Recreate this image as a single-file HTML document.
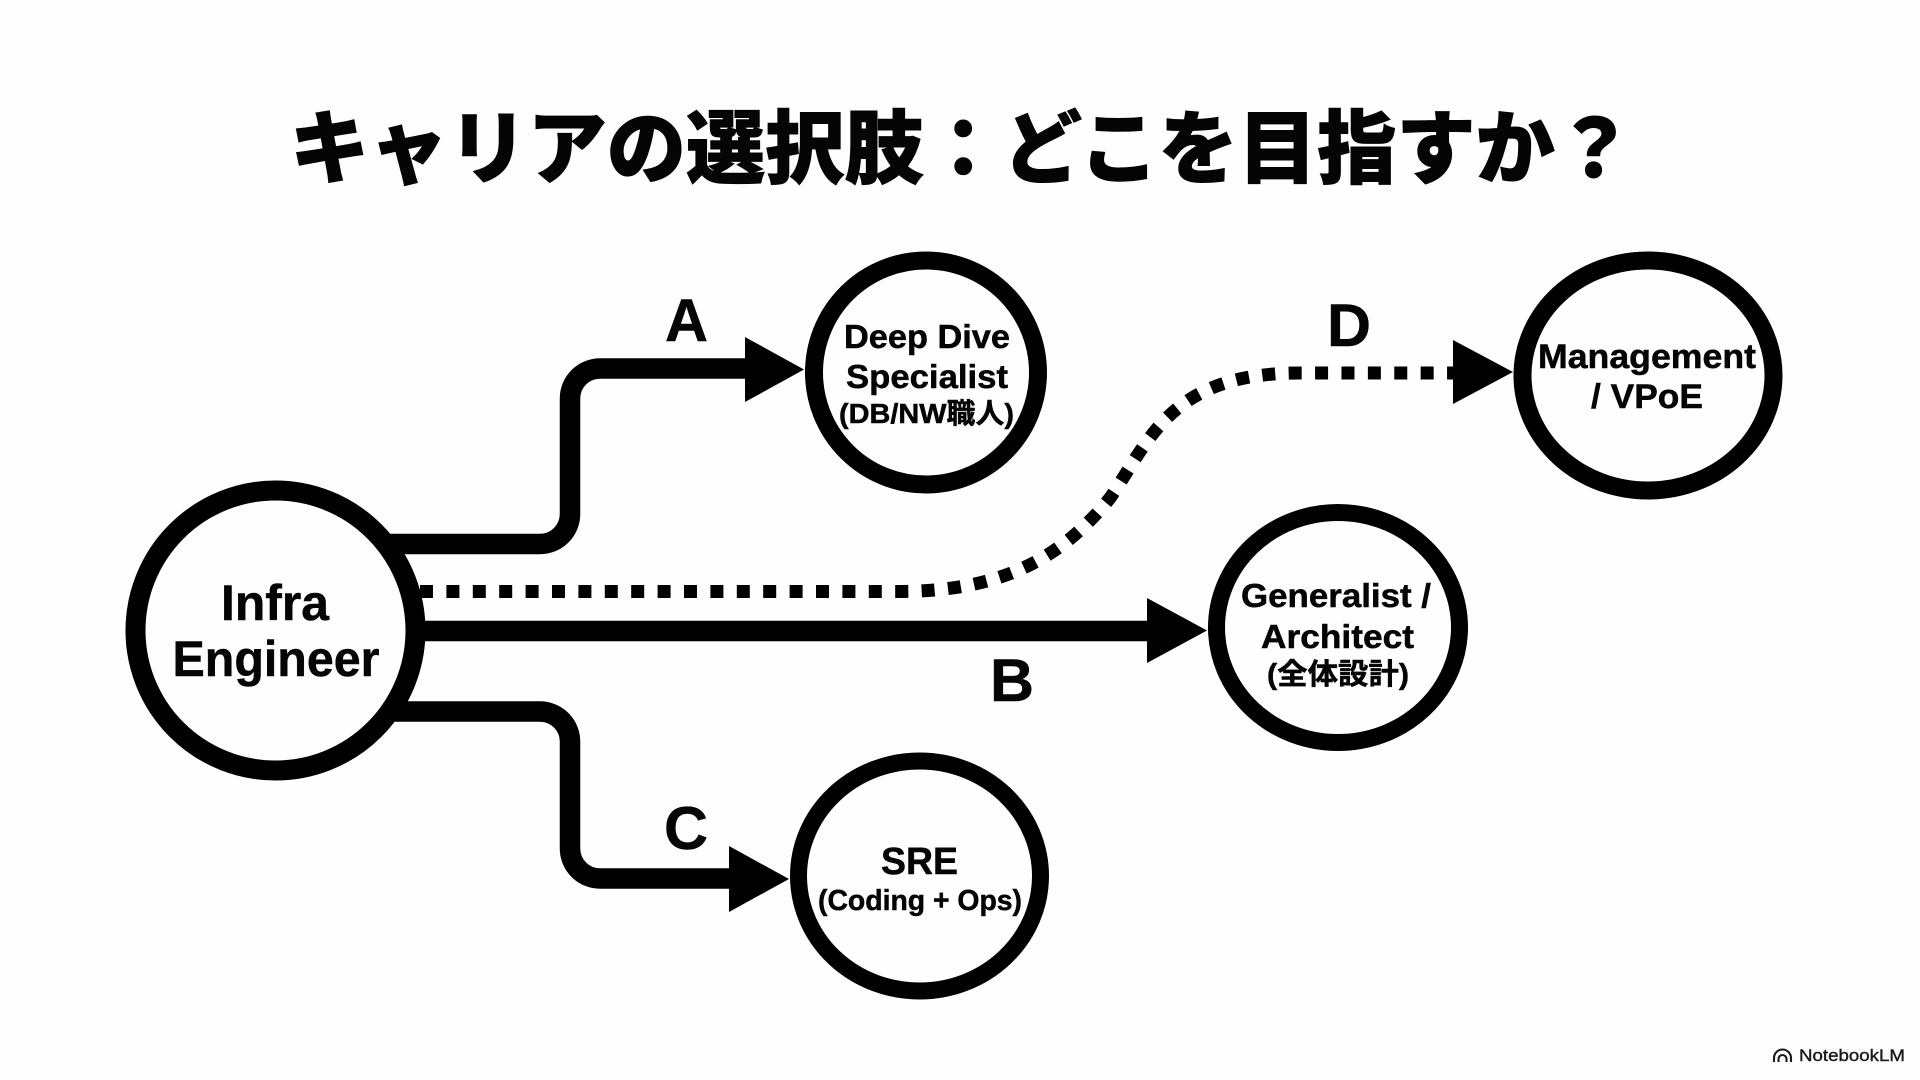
<!DOCTYPE html>
<html lang="ja">
<head>
<meta charset="utf-8">
<title>キャリアの選択肢</title>
<style>
html,body{margin:0;padding:0;width:1920px;height:1080px;background:#fefefe;overflow:hidden}
svg{display:block}
text{font-family:"Liberation Sans","Noto Sans CJK JP",sans-serif;font-weight:700;fill:#050505;stroke:#050505;stroke-width:.5}
.t{font-family:"Noto Sans CJK JP","Liberation Sans",sans-serif;font-weight:900;stroke-width:1}
.line{fill:none;stroke:#000;stroke-width:20.5}
.node{fill:#fefefe;stroke:#000}
</style>
</head>
<body>
<svg width="1920" height="1080" viewBox="0 0 1920 1080" xmlns="http://www.w3.org/2000/svg">
  <rect width="1920" height="1080" fill="#fefefe"/>

  <text class="t" x="290" y="177" font-size="80" textLength="1344" lengthAdjust="spacingAndGlyphs">キャリアの選択肢：どこを目指すか？</text>

  <!-- connectors -->
  <path class="line" d="M390 544 H540 A30 30 0 0 0 570 514 V398.5 A30 30 0 0 1 600 368.5 H750"/>
  <polygon points="745,337 804,369.5 745,402" fill="#000"/>

  <path class="line" d="M415 631 H1152"/>
  <polygon points="1147,598 1207,630.5 1147,663" fill="#000"/>

  <path class="line" d="M390 711.5 H540 A30 30 0 0 1 570 741.5 V848.5 A30 30 0 0 0 600 878.5 H735"/>
  <polygon points="729,846 789,879 729,912" fill="#000"/>

  <path d="M420 591.5 H900 C1000 591 1060 560 1110 498 C1150 440 1170 373 1300 373 H1455" fill="none" stroke="#000" stroke-width="13" stroke-dasharray="13 13.4"/>
  <polygon points="1453,340 1513,372 1453,404" fill="#000"/>

  <!-- nodes -->
  <circle class="node" cx="275.5" cy="630.5" r="140" stroke-width="20"/>
  <ellipse class="node" cx="926" cy="372.5" rx="112" ry="112" stroke-width="18"/>
  <ellipse class="node" cx="1648" cy="375.5" rx="125.5" ry="115" stroke-width="18"/>
  <ellipse class="node" cx="1338" cy="627.5" rx="121.5" ry="115" stroke-width="17"/>
  <ellipse class="node" cx="919.5" cy="876" rx="121" ry="115" stroke-width="17"/>

  <!-- branch letters -->
  <text x="665" y="341" font-size="60" textLength="43" lengthAdjust="spacingAndGlyphs">A</text>
  <text x="990" y="701" font-size="60" textLength="44" lengthAdjust="spacingAndGlyphs">B</text>
  <text x="664" y="849" font-size="60" textLength="44" lengthAdjust="spacingAndGlyphs">C</text>
  <text x="1327" y="346" font-size="60" textLength="44" lengthAdjust="spacingAndGlyphs">D</text>

  <!-- node labels -->
  <text x="221" y="620" font-size="50" textLength="108" lengthAdjust="spacingAndGlyphs">Infra</text>
  <text x="172.5" y="676" font-size="50" textLength="207" lengthAdjust="spacingAndGlyphs">Engineer</text>

  <text x="844" y="348" font-size="33" textLength="166" lengthAdjust="spacingAndGlyphs">Deep Dive</text>
  <text x="846" y="388" font-size="33" textLength="162" lengthAdjust="spacingAndGlyphs">Specialist</text>
  <text x="839" y="423" font-size="28" textLength="175" lengthAdjust="spacingAndGlyphs">(DB/NW職人)</text>

  <text x="1538" y="368" font-size="34" textLength="218" lengthAdjust="spacingAndGlyphs">Management</text>
  <text x="1591" y="408" font-size="34" textLength="112" lengthAdjust="spacingAndGlyphs">/ VPoE</text>

  <text x="1241" y="607" font-size="33" textLength="190" lengthAdjust="spacingAndGlyphs">Generalist /</text>
  <text x="1261" y="648" font-size="33" textLength="153" lengthAdjust="spacingAndGlyphs">Architect</text>
  <text x="1267" y="684" font-size="29" textLength="142" lengthAdjust="spacingAndGlyphs">(全体設計)</text>

  <text x="881" y="874" font-size="38" textLength="77" lengthAdjust="spacingAndGlyphs">SRE</text>
  <text x="818" y="910" font-size="29" textLength="204" lengthAdjust="spacingAndGlyphs">(Coding + Ops)</text>

  <!-- watermark -->
  <g fill="none" stroke="#1a1a1a" stroke-width="2.1">
    <path d="M1774 1062 V1058 A8.5 8.5 0 0 1 1791 1058 V1062"/>
    <path d="M1778.5 1062 V1059 A4 4 0 0 1 1786.5 1059 V1062"/>
  </g>
  <text x="1799" y="1061" font-size="17" textLength="106" lengthAdjust="spacingAndGlyphs" style="font-weight:400;fill:#1a1a1a;stroke:#1a1a1a;stroke-width:.4">NotebookLM</text>
</svg>
</body>
</html>
